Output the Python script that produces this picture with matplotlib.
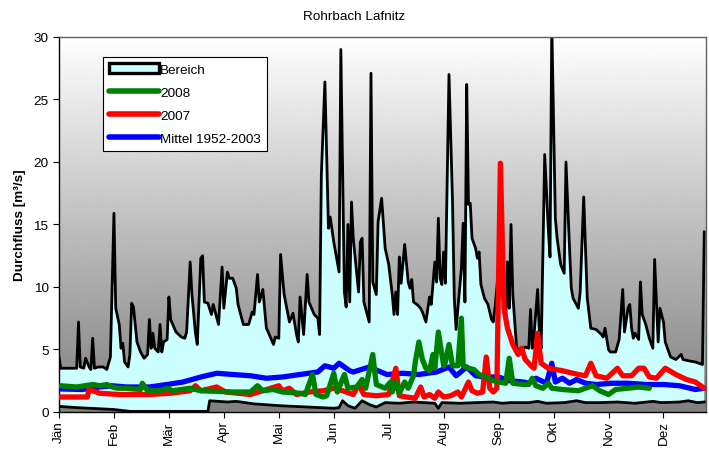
#!/usr/bin/env python3

import numpy as np
import matplotlib
matplotlib.use('Agg')
import matplotlib.pyplot as plt
from matplotlib.patches import Patch
from matplotlib.lines import Line2D

plt.rcParams['font.family'] = ['Liberation Sans', 'DejaVu Sans']

"""
Daily discharge at Rohrbach / Lafnitz: envelope of all years (Bereich),
the years 2007 and 2008 and the long term mean. Values read off the
original chart, x is the day of year (0 = 1. Jänner).
"""

months = ['Jän', 'Feb', 'Mär', 'Apr', 'Mai', 'Jun',
          'Jul', 'Aug', 'Sep', 'Okt', 'Nov', 'Dez']

# upper envelope (maximum)
max_days = [0, 1, 6, 10, 11, 12, 14, 15, 17, 18, 19, 20, 22, 25, 27, 29, 31, 32, 34, 35,
            36, 37, 39, 40, 41, 42, 44, 46, 48, 50, 51, 52, 53, 54, 56, 57, 58, 59, 61, 62,
            63, 66, 69, 71, 72, 74, 75, 77, 78, 80, 81, 82, 84, 86, 87, 90, 92, 93, 95, 96,
            98, 100, 101, 104, 107, 109, 110, 112, 113, 115, 117, 118, 121, 122, 124, 125,
            127, 130, 132, 134, 135, 136, 138, 140, 141, 144, 146, 147, 148, 150, 152, 153,
            155, 158, 159, 161, 162, 163, 164, 165, 166, 169, 170, 171, 172, 175, 176, 177,
            179, 180, 182, 184, 186, 188, 189, 190, 191, 192, 193, 195, 197, 198, 199, 200,
            202, 204, 205, 207, 209, 210, 212, 213, 214, 215, 216, 217, 218, 220, 222, 223,
            224, 227, 228, 229, 230, 231, 232, 233, 235, 236, 237, 238, 240, 242, 244, 245,
            246, 248, 249, 250, 252, 253, 254, 255, 256, 258, 259, 262, 263, 265, 266, 267,
            268, 270, 271, 272, 274, 276, 277, 278, 280, 281, 283, 285, 286, 288, 289, 290,
            293, 294, 296, 298, 300, 303, 306, 307, 308, 310, 311, 314, 316, 318, 319, 321,
            322, 323, 324, 325, 327, 328, 329, 331, 333, 335, 336, 338, 339, 341, 342, 345,
            348, 351, 352, 355, 359, 363, 364]
max_vals = [4.4, 3.5, 3.5, 3.5, 7.2, 3.6, 3.5, 4.3, 3.6, 3.4, 5.9, 3.5, 3.6, 3.6, 3.4, 4.4,
            15.9, 8.3, 7.0, 5.1, 5.5, 4.0, 3.6, 4.6, 8.7, 8.4, 5.6, 4.8, 4.3, 4.6, 7.4, 5.1,
            6.3, 5.1, 4.8, 7.0, 4.8, 5.6, 5.8, 9.2, 7.4, 6.4, 6.0, 5.9, 6.4, 12.0, 9.4, 6.3,
            5.4, 12.3, 12.5, 8.8, 8.7, 7.8, 8.6, 7.0, 11.6, 8.3, 11.2, 10.7, 10.7, 9.9, 8.6,
            7.0, 7.0, 8.0, 7.8, 11.0, 8.8, 9.8, 6.7, 6.4, 5.4, 6.0, 5.9, 12.6, 9.4, 7.2, 7.9,
            6.2, 5.6, 9.2, 6.2, 11.0, 8.8, 7.8, 7.5, 6.2, 19.0, 26.4, 14.7, 15.6, 13.6, 11.2,
            29.0, 9.6, 8.4, 15.0, 8.8, 16.8, 13.9, 9.6, 13.6, 13.9, 8.8, 7.2, 27.1, 10.4, 9.4,
            15.2, 17.1, 13.1, 11.8, 9.4, 7.8, 9.6, 7.8, 12.4, 10.3, 13.4, 10.4, 9.9, 10.6, 8.8,
            8.6, 8.3, 8.0, 7.2, 9.2, 8.6, 12.0, 10.4, 15.5, 10.7, 10.2, 12.8, 10.3, 27.0, 16.8,
            9.1, 6.6, 11.5, 15.1, 8.8, 26.2, 16.6, 16.7, 13.9, 13.1, 12.3, 12.8, 10.2, 9.1,
            8.6, 7.4, 7.2, 8.4, 11.5, 18.2, 11.5, 7.2, 12.0, 8.3, 15.0, 9.4, 5.4, 4.8, 5.1,
            5.2, 5.1, 8.2, 5.1, 6.2, 9.8, 6.2, 5.1, 20.6, 14.7, 12.4, 31.0, 15.5, 13.9, 11.8,
            11.1, 20.0, 13.1, 9.9, 9.1, 8.3, 9.6, 17.2, 9.1, 6.7, 6.6, 6.2, 6.0, 6.7, 5.0,
            4.8, 4.8, 5.8, 9.8, 6.4, 8.3, 8.6, 6.7, 5.9, 6.3, 5.8, 10.4, 7.8, 7.0, 5.9, 5.1,
            12.2, 5.6, 8.3, 7.2, 5.6, 4.4, 4.2, 4.6, 4.2, 4.1, 4.0, 3.8, 14.4]

# lower envelope (minimum)
min_days = [0, 10, 31, 40, 60, 84, 85, 95, 100, 110, 115, 125, 140, 155, 158, 160, 163,
            167, 171, 175, 179, 184, 192, 200, 212, 214, 216, 226, 235, 245, 250, 255, 265,
            270, 275, 285, 292, 297, 305, 315, 325, 335, 340, 350, 355, 360, 364]
min_vals = [0.45, 0.35, 0.2, 0.05, 0.05, 0.05, 0.9, 0.8, 0.85, 0.65, 0.6, 0.5, 0.4, 0.3,
            0.35, 0.9, 0.5, 0.3, 0.9, 0.6, 0.4, 0.75, 0.7, 0.8, 0.7, 0.3, 0.75, 0.7, 0.75,
            0.8, 0.7, 0.75, 0.75, 0.85, 0.7, 0.75, 0.9, 0.75, 0.75, 0.8, 0.7, 0.85, 0.75,
            0.8, 0.9, 0.75, 0.8]

# 2008
y2008_days = [1, 10, 19, 23, 27, 30, 33, 38, 46, 47, 50, 57, 61, 64, 74, 80, 98, 108, 112,
              115, 121, 126, 136, 139, 143, 145, 149, 151, 155, 157, 161, 163, 168, 171, 173,
              177, 179, 184, 187, 188, 190, 192, 195, 197, 200, 201, 203, 205, 207, 209, 211,
              212, 214, 217, 218, 220, 222, 225, 227, 228, 231, 234, 237, 241, 245, 248, 252,
              254, 256, 262, 265, 267, 269, 273, 276, 278, 284, 293, 301, 305, 310, 314, 321,
              327, 333]
y2008_vals = [2.1, 2.0, 2.2, 2.1, 2.2, 2.0, 1.9, 1.9, 1.8, 2.3, 1.7, 1.7, 1.9, 1.7, 1.9,
              1.7, 1.6, 1.6, 2.1, 1.7, 1.8, 1.6, 1.5, 1.4, 3.0, 1.4, 1.2, 1.3, 3.1, 1.6, 3.0,
              1.9, 2.0, 2.6, 1.9, 4.6, 2.2, 1.9, 2.4, 1.6, 2.4, 1.5, 2.4, 1.9, 2.9, 4.0, 5.6,
              4.2, 3.5, 3.3, 4.6, 3.5, 6.4, 3.7, 4.0, 5.4, 3.7, 3.7, 7.5, 3.7, 3.5, 3.4, 3.0,
              2.8, 2.5, 2.4, 2.3, 4.3, 2.3, 2.2, 2.2, 2.7, 2.1, 1.9, 2.3, 1.9, 1.8, 1.7, 2.1,
              1.7, 1.4, 1.8, 1.9, 2.0, 1.9]

# 2007
y2007_days = [0, 16, 17, 19, 23, 34, 51, 63, 74, 77, 80, 89, 94, 108, 124, 126, 130, 134,
              141, 149, 155, 160, 166, 169, 172, 179, 186, 190, 192, 196, 201, 204, 206, 209,
              212, 214, 217, 221, 225, 227, 231, 233, 236, 239, 241, 243, 245, 247, 249, 251,
              253, 256, 259, 261, 263, 267, 268, 270, 272, 276, 284, 293, 297, 300, 303, 309,
              315, 318, 323, 327, 330, 333, 337, 342, 348, 354, 359, 364]
y2007_vals = [1.2, 1.2, 1.8, 1.7, 1.5, 1.4, 1.4, 1.5, 1.7, 2.1, 1.7, 2.0, 1.6, 1.4, 2.1,
              1.7, 1.9, 1.4, 1.6, 1.7, 1.9, 1.7, 1.4, 2.2, 1.4, 1.3, 1.4, 3.5, 1.3, 1.2, 1.1,
              2.0, 1.2, 1.4, 1.1, 1.6, 1.2, 1.3, 1.6, 1.2, 2.4, 1.7, 1.5, 1.6, 4.4, 1.9, 1.6,
              1.9, 19.9, 8.3, 6.7, 5.4, 4.6, 5.1, 4.2, 3.6, 3.5, 6.3, 3.9, 3.5, 3.3, 3.0, 2.9,
              3.9, 2.9, 2.7, 3.5, 2.9, 2.9, 3.5, 3.5, 2.8, 2.7, 3.5, 3.0, 2.6, 2.4, 1.9]

# Mittel 1952-2003
mean_days = [0, 13, 23, 30, 38, 51, 61, 70, 80, 89, 98, 108, 117, 126, 136, 146, 150, 155,
             158, 164, 166, 175, 185, 194, 203, 213, 220, 224, 230, 235, 241, 248, 254, 262,
             265, 269, 275, 278, 280, 284, 288, 292, 297, 303, 312, 321, 331, 341, 350, 359,
             364]
mean_vals = [1.85, 1.8, 2.0, 2.1, 2.0, 2.0, 2.2, 2.4, 2.8, 3.1, 3.0, 2.9, 2.7, 2.8, 3.0,
             3.2, 3.7, 3.5, 3.9, 3.3, 3.2, 3.6, 3.0, 3.1, 3.0, 3.2, 3.6, 2.9, 3.6, 2.9, 2.8,
             2.8, 2.5, 2.4, 2.3, 2.7, 2.3, 3.9, 2.4, 2.7, 2.3, 2.6, 2.3, 2.2, 2.3, 2.3, 2.2,
             2.2, 2.1, 1.8, 1.9]

fig = plt.figure(figsize=(7.09, 4.56), dpi=100)
ax = fig.add_axes([0.0832, 0.0943, 0.9126, 0.8224])

x_end = 365
y_top = 30
fs = 9.7

# grey gradient background, white at the top
grad = np.linspace(1.0, 0.5, 256).reshape(-1, 1)
ax.imshow(grad, extent=(0, x_end, 0, y_top), cmap='gray', vmin=0, vmax=1,
          aspect='auto', origin='upper', zorder=0)

# range between minimum and maximum
poly_x = np.concatenate([max_days, min_days[::-1]])
poly_y = np.concatenate([max_vals, min_vals[::-1]])
ax.fill(poly_x, poly_y, facecolor='#ccffff', edgecolor='none', zorder=1)
ax.plot(max_days, max_vals, color='black', linewidth=2.0, zorder=2)
ax.plot(min_days, min_vals, color='black', linewidth=2.0, zorder=2)

ax.plot(mean_days, mean_vals, color='#0000ff', linewidth=3.8, zorder=3,
        solid_capstyle='round', solid_joinstyle='round')
ax.plot(y2007_days, y2007_vals, color='#ff0000', linewidth=3.8, zorder=4,
        solid_capstyle='round', solid_joinstyle='round')
ax.plot(y2008_days, y2008_vals, color='#008000', linewidth=3.8, zorder=5,
        solid_capstyle='round', solid_joinstyle='round')

ax.set_xlim(0, x_end)
ax.set_ylim(0, y_top)
ax.set_yticks(range(0, 31, 5))
ax.set_xticks([31 * i for i in range(12)])
ax.set_xticklabels(months, rotation=90, fontsize=fs)
ax.tick_params(axis='y', labelsize=fs, length=4, direction='out')
ax.tick_params(axis='x', length=4, direction='out', pad=2)
ax.set_ylabel('Durchfluss [m³/s]', fontsize=fs, fontweight='bold', labelpad=5)
fig.text(0.5, 0.962, 'Rohrbach Lafnitz', ha='center', va='center', fontsize=fs)

for side in ['left', 'bottom']:
    ax.spines[side].set_color('black')
    ax.spines[side].set_linewidth(1.0)
for side in ['top', 'right']:
    ax.spines[side].set_color('#606060')
    ax.spines[side].set_linewidth(1.0)

handles = [Patch(facecolor='#ccffff', edgecolor='black', linewidth=2.4),
           Line2D([], [], color='#008000', linewidth=4.0, solid_capstyle='round'),
           Line2D([], [], color='#ff0000', linewidth=4.0, solid_capstyle='round'),
           Line2D([], [], color='#0000ff', linewidth=4.0, solid_capstyle='round')]
labels = ['Bereich', '2008', '2007', 'Mittel 1952-2003']
leg = ax.legend(handles, labels, loc='upper left', bbox_to_anchor=(0.068, 0.947),
                fontsize=fs, frameon=True, fancybox=False, edgecolor='black',
                framealpha=1.0, handlelength=3.7, handleheight=0.8, handletextpad=0.1,
                labelspacing=0.75, borderpad=0.45, borderaxespad=0)
leg.get_frame().set_linewidth(0.8)

fig.savefig('out.png', dpi=100)
